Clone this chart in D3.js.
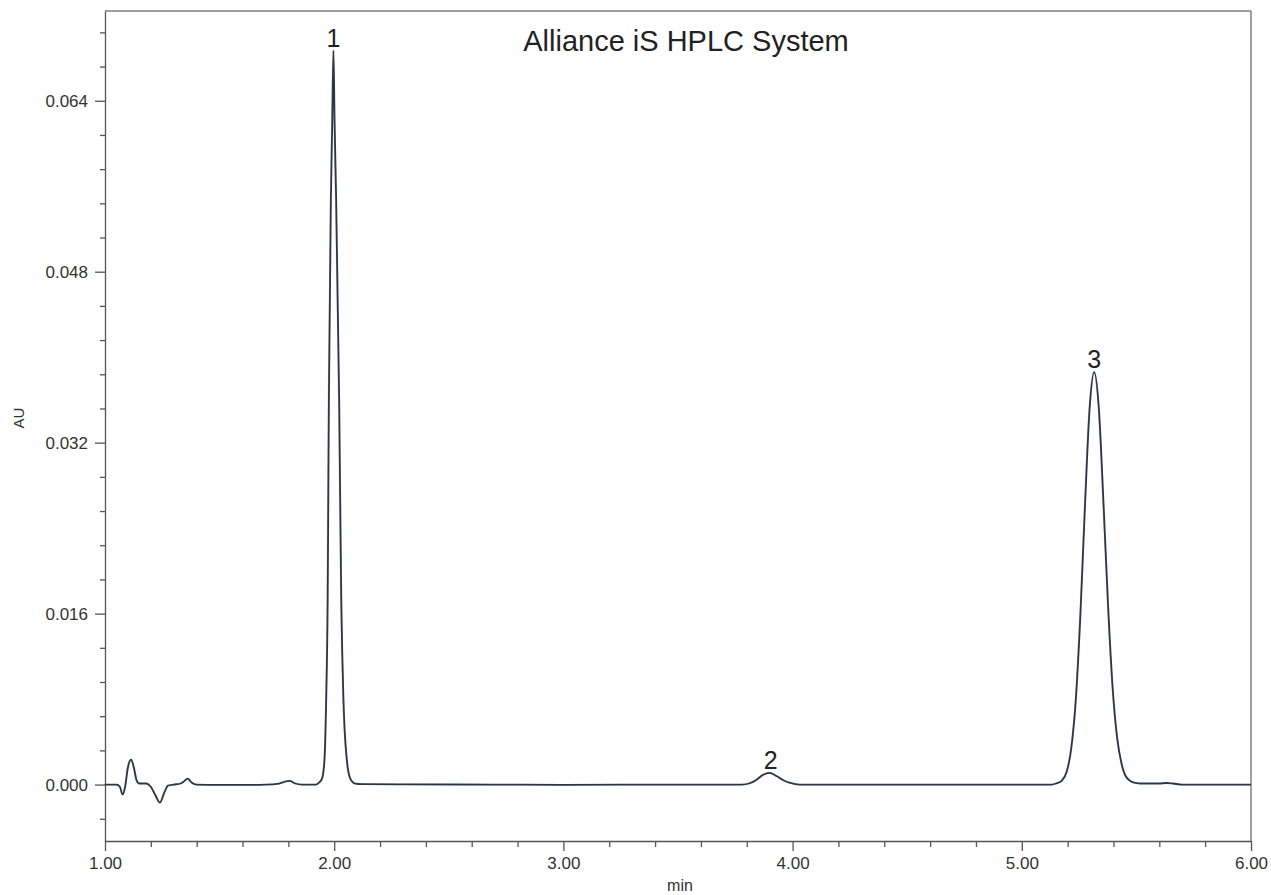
<!DOCTYPE html>
<html>
<head>
<meta charset="utf-8">
<script src="https://cdn.jsdelivr.net/npm/d3@7"></script>
<style>
    body { margin: 0; background: #fff; }
    svg { display: block; font-family: "Liberation Sans", Arial, sans-serif; }
    .axis path, .axis line { stroke: #555; stroke-width: 1.3; }
    .axis text { fill: #333; font-size: 17px; }
</style>
</head>
<body>
<div id="chart"></div>
<script>
// chromatogram: retention time (min) / absorbance (AU)
const timeMin = [
    1.00, 1.05, 1.065, 1.077, 1.088, 1.100, 1.114, 1.126, 1.138, 1.150,
    1.180, 1.200, 1.220, 1.240, 1.258, 1.275, 1.300, 1.330, 1.345, 1.361,
    1.378, 1.400, 1.500, 1.600, 1.700, 1.760, 1.790, 1.805, 1.830, 1.860,
    1.920, 1.935, 1.9476, 1.9576, 1.9651, 1.9716, 1.9769, 1.9856, 1.9917, 1.9969,
    2.0017, 2.0087, 2.0218, 2.0310, 2.0406, 2.0555, 2.0699, 2.0917, 2.12, 2.30,
    2.70, 3.00, 3.50, 3.78, 3.81, 3.84, 3.87, 3.90, 3.93, 3.96,
    3.99, 4.03, 4.50, 5.00, 5.130, 5.150, 5.176, 5.196, 5.216, 5.236,
    5.256, 5.276, 5.296, 5.316, 5.336, 5.356, 5.376, 5.396, 5.416, 5.436,
    5.456, 5.486, 5.516, 5.60, 5.63, 5.66, 5.70, 6.00
];
const absAU = [
    0, 0, -0.0002, -0.00094, -0.0002, 0.0016, 0.00234, 0.0016, 0.0004, 0.0001,
    0.0001, -0.0002, -0.0010, -0.00168, -0.0008, -0.0001, 0.0, 0.0001, 0.0003, 0.00056,
    0.0002, 0.0, -0.00003, -0.00003, 0.0, 0.0001, 0.0003, 0.00034, 0.0001, 0.0,
    0.0, 0.0002, 0.00059, 0.00228, 0.00789, 0.01725, 0.03597, 0.05468, 0.06215, 0.06871,
    0.06215, 0.05468, 0.03597, 0.01725, 0.00789, 0.00228, 0.00059, 0.0001, 0.00005, 0.00002,
    0.0, -0.00002, 0.0, 0.0, 0.0001, 0.0004, 0.0009, 0.0011, 0.0008, 0.0004,
    0.00015, 0.0, 0.0, 0.0, 0.0, 0.0001, 0.0004, 0.0012, 0.0034, 0.0080,
    0.0160, 0.0262, 0.0352, 0.0386, 0.0353, 0.0266, 0.0170, 0.0092, 0.0044, 0.0019,
    0.0007, 0.0002, 0.0001, 0.0001, 0.00015, 0.0001, 0.0, 0.0
];

const peakNames = ["1", "2", "3"];
const peakTimes = [1.997, 3.904, 5.316];
const peakHeights = [0.0687, 0.0011, 0.0386];

const xTicks = [1, 2, 3, 4, 5, 6];
const yTicks = [0, 0.016, 0.032, 0.048, 0.064];

const titleText = "Alliance iS HPLC System";
const xLabel = "min";
const yLabel = "AU";

const width = 1271, height = 895;
const plot = {left: 105, right: 1251, top: 11, bottom: 841};

let svg = d3.select("#chart")
    .append("svg")
    .attr("width", width)
    .attr("height", height);

let x = d3.scaleLinear()
    .domain([1, 6])
    .range([plot.left, plot.right]);

let y = d3.scaleLinear()
    .domain([-0.00528, 0.0724])
    .range([plot.bottom, plot.top]);

// frame on top and right
svg.append("line")
    .attr("x1", plot.left).attr("x2", plot.right)
    .attr("y1", plot.top).attr("y2", plot.top)
    .attr("stroke", "#808080").attr("stroke-width", 1.5);
svg.append("line")
    .attr("x1", plot.right).attr("x2", plot.right)
    .attr("y1", plot.top).attr("y2", plot.bottom)
    .attr("stroke", "#808080").attr("stroke-width", 1.5);

// minor ticks
let xMinor = d3.range(1, 6.001, 0.2).filter(v => Math.abs(v - Math.round(v)) > 1e-6);
let yMinor = d3.range(-0.0032, 0.0724, 0.0032).filter(v => Math.abs(v / 0.016 - Math.round(v / 0.016)) > 1e-6);

svg.append("g")
    .attr("class", "axis")
    .attr("transform", "translate(0," + plot.bottom + ")")
    .call(d3.axisBottom(x).tickValues(xMinor).tickSize(6).tickFormat(""))
    .call(g => g.select(".domain").remove());

svg.append("g")
    .attr("class", "axis")
    .attr("transform", "translate(" + plot.left + ",0)")
    .call(d3.axisLeft(y).tickValues(yMinor).tickSize(5).tickFormat(""))
    .call(g => g.select(".domain").remove());

// major axes
svg.append("g")
    .attr("class", "axis")
    .attr("transform", "translate(0," + plot.bottom + ")")
    .call(d3.axisBottom(x).tickValues(xTicks).tickSize(10).tickSizeOuter(0).tickFormat(d3.format(".2f")))
    .call(g => g.selectAll("text").attr("dy", "1em").attr("y", 11));

svg.append("g")
    .attr("class", "axis")
    .attr("transform", "translate(" + plot.left + ",0)")
    .call(d3.axisLeft(y).tickValues(yTicks).tickSize(10).tickSizeOuter(0).tickFormat(d3.format(".3f")))
    .call(g => g.selectAll("text").attr("x", -17));

// trace
let points = timeMin.map((t, i) => [t, absAU[i]]);
let line = d3.line()
    .x(d => x(d[0]))
    .y(d => y(d[1]))
    .curve(d3.curveMonotoneX);

svg.append("path")
    .datum(points)
    .attr("fill", "none")
    .attr("stroke", "#8a5a6a")
    .attr("stroke-opacity", 0.35)
    .attr("stroke-width", 1.2)
    .attr("transform", "translate(-0.6,0)")
    .attr("d", line);

svg.append("path")
    .datum(points)
    .attr("fill", "none")
    .attr("stroke", "#2b3744")
    .attr("stroke-width", 1.8)
    .attr("stroke-linejoin", "round")
    .attr("d", line);

// peak numbers
svg.selectAll(".peak")
    .data(peakNames)
    .enter()
    .append("text")
    .attr("class", "peak")
    .attr("x", (d, i) => x(peakTimes[i]))
    .attr("y", (d, i) => y(peakHeights[i]) - 4)
    .attr("text-anchor", "middle")
    .attr("font-size", "25px")
    .attr("fill", "#222")
    .text(d => d);

// title and axis labels
svg.append("text")
    .attr("x", 686).attr("y", 51)
    .attr("text-anchor", "middle")
    .attr("font-size", "29px")
    .attr("fill", "#222")
    .text(titleText);

svg.append("text")
    .attr("x", 680).attr("y", 891)
    .attr("text-anchor", "middle")
    .attr("font-size", "16px")
    .attr("fill", "#333")
    .text(xLabel);

svg.append("text")
    .attr("transform", "translate(24,418) rotate(-90)")
    .attr("text-anchor", "middle")
    .attr("font-size", "15px")
    .attr("fill", "#333")
    .text(yLabel);
</script>
</body>
</html>
